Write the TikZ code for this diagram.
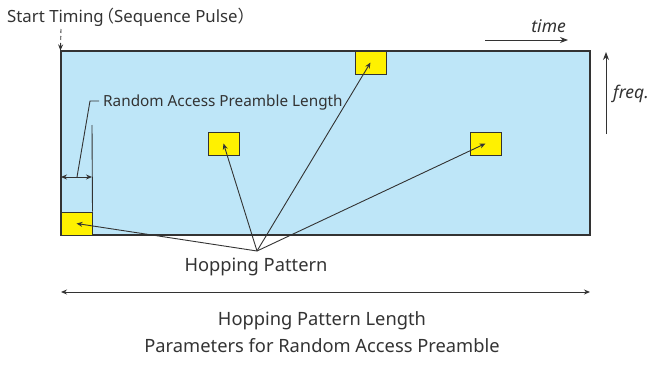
\documentclass[tikz,border=0pt]{standalone}
\usepackage{fontspec}
\setmainfont{Noto Sans}
\newfontfamily\cjk[RawFeature=+halt]{Noto Sans CJK JP}
\usetikzlibrary{positioning,arrows.meta}
\definecolor{bandblue}{HTML}{BEE6F8}
\definecolor{hopyellow}{HTML}{FFF100}
\definecolor{ink}{HTML}{333333}
\begin{document}
\begin{tikzpicture}[
    x=1pt, y=-1pt,
    font=\fontsize{18.3}{20}\selectfont,
    every node/.style={text=ink, inner sep=0pt},
    band/.style={draw=ink, line width=1.1pt, fill=bandblue, minimum width=529pt, minimum height=184pt},
    hop/.style={draw=ink, line width=1pt, fill=hopyellow, minimum width=31pt, minimum height=23pt},
    axislabel/.style={font=\fontsize{17.5}{20}\selectfont\itshape},
    arrow/.style={-{Stealth[length=6pt,width=5pt]}, draw=ink, line width=0.9pt},
    dimarrow/.style={{Stealth[length=6pt,width=5pt]}-{Stealth[length=6pt,width=5pt]}, draw=ink, line width=0.9pt},
    axis/.style={-{Stealth[length=8pt,width=6pt]}, draw=ink, line width=1pt},
    leader/.style={draw=ink, line width=0.9pt}
]
    \useasboundingbox (0,0) rectangle (649,367);

    \node[band] (area) at (325.5,143) {};
    \node[hop] (h1) at (76.5,223.5) {};
    \node[hop] (h2) at (223.5,143.5) {};
    \node[hop] (h3) at (370.5,62.5) {};
    \node[hop] (h4) at (485.5,143.5) {};

    % start timing
    \node[anchor=base west, font=\fontsize{16.8}{20}\selectfont] (start) at (7,22.7) {Start Timing\hspace{2pt}{\cjk（}Sequence Pulse{\cjk）}};
    \coordinate (pulse) at (61,29);
    \draw[arrow, dashed, dash pattern=on 4pt off 3pt] (pulse) -- (area.north west);

    % axes
    \coordinate (t0) at (485,40);
    \coordinate (t1) at (568,40);
    \draw[axis] (t0) -- (t1);
    \node[axislabel, anchor=base east] (time) at (566,32.5) {time};
    \coordinate (f0) at (606,134);
    \coordinate (f1) at (606,52);
    \draw[axis] (f0) -- (f1);
    \node[axislabel, anchor=base west] (freq) at (613,98) {freq.};

    % preamble length
    \node[anchor=base west, font=\fontsize{15.3}{18}\selectfont] (rap) at (103,106.7) {Random Access Preamble Length};
    \coordinate (hook) at (99,101);
    \coordinate (bend) at (90,101);
    \coordinate (dimL) at (61,177);
    \coordinate (dimR) at (92,177);
    \coordinate (tick) at (92,125);
    \draw[leader] (hook) -- (bend) -- (77,177);
    \draw[dimarrow] (dimL) -- (dimR);
    \draw[leader] (tick) -- (h1.north east);

    % hopping pattern
    \node[anchor=base] (hp) at (256,271.7) {Hopping Pattern};
    \coordinate (apex) at (257,251);
    \foreach \h in {h1,h2,h3,h4}
        \draw[arrow] (apex) -- (\h.center);

    % length
    \coordinate (len0) at (61,292);
    \coordinate (len1) at (590,292);
    \draw[dimarrow] (len0) -- (len1);
    \node[anchor=base] (len) at (322,325) {Hopping Pattern Length};
    \node[anchor=base] (caption) at (322,352) {Parameters for Random Access Preamble};
\end{tikzpicture}
\end{document}
